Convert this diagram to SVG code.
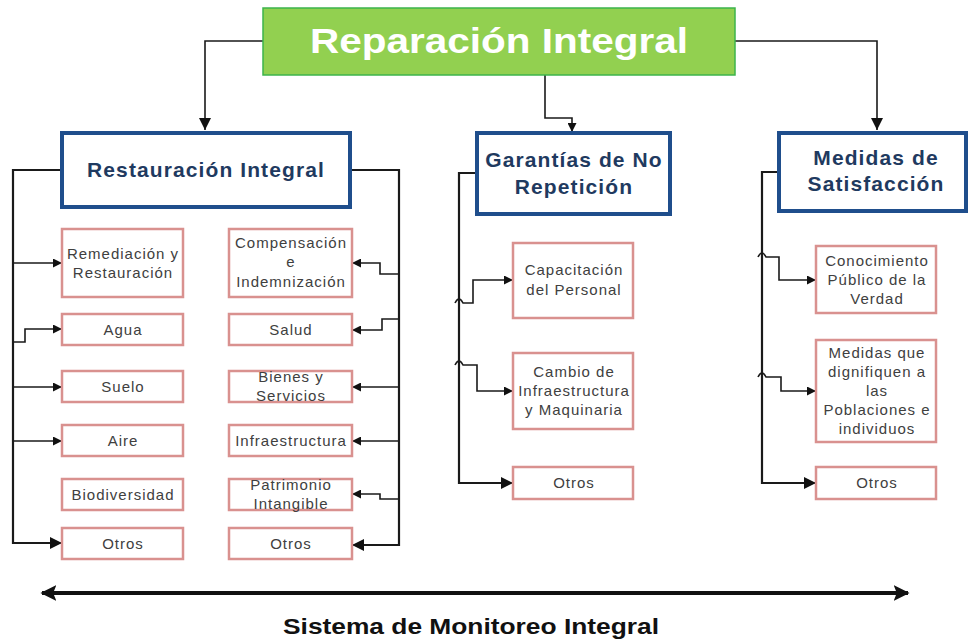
<svg xmlns="http://www.w3.org/2000/svg" width="968" height="640" viewBox="0 0 968 640">
<style>
.main{fill:#92D050;stroke:#3CB44B;stroke-width:1.5}
.cat{fill:#fff;stroke:#1F4E8C;stroke-width:4}
.leaf{fill:#fff;stroke:#D9918F;stroke-width:2.5}
.ct{font-family:"Liberation Sans",Arial,sans-serif;font-weight:bold;font-size:21px;letter-spacing:1.1px;fill:#1F3A60;text-anchor:middle}
.lt{font-family:"Liberation Sans",Arial,sans-serif;font-size:15px;letter-spacing:1px;fill:#404040;text-anchor:middle}
.ln{fill:none;stroke:#1a1a1a;stroke-width:1.6}
.tr{fill:none;stroke:#1a1a1a;stroke-width:2.2}
</style>
<defs>
<marker id="ah" viewBox="0 0 10 10" refX="10" refY="5" markerWidth="9" markerHeight="9" markerUnits="userSpaceOnUse" orient="auto"><path d="M0,0 L10,5 L0,10 z" fill="#111"/></marker>
<marker id="ahb" viewBox="0 0 10 10" refX="10" refY="5" markerWidth="12" markerHeight="12" markerUnits="userSpaceOnUse" orient="auto"><path d="M0,0 L10,5 L0,10 z" fill="#111"/></marker>
<marker id="big" viewBox="0 0 10 10" refX="9" refY="5" markerWidth="16" markerHeight="16" markerUnits="userSpaceOnUse" orient="auto-start-reverse"><path d="M0,0 L10,5 L0,10 L2,5 z" fill="#111"/></marker>
</defs>

<g id="connectors">
<path class="ln" d="M263,41 H205 V130" marker-end="url(#ahb)"/>
<path class="ln" d="M545,75 V118 H572 V132" marker-end="url(#ah)"/>
<path class="ln" d="M735,41 H877 V130" marker-end="url(#ahb)"/>
<path class="tr" d="M62,170 H13 V543 H62" marker-end="url(#ahb)"/>
<path class="ln" d="M13,263 H62" marker-end="url(#ah)"/>
<path class="ln" d="M13,342 H25 V329 H62" marker-end="url(#ah)"/>
<path class="ln" d="M13,387 H62" marker-end="url(#ah)"/>
<path class="ln" d="M13,441 H62" marker-end="url(#ah)"/>
<path class="tr" d="M350,170 H399 V545 H352" marker-end="url(#ahb)"/>
<path class="ln" d="M399,274 H380 V263 H352" marker-end="url(#ah)"/>
<path class="ln" d="M399,319 H382 V330 H352" marker-end="url(#ah)"/>
<path class="ln" d="M399,387 H352" marker-end="url(#ah)"/>
<path class="ln" d="M399,441 H352" marker-end="url(#ah)"/>
<path class="ln" d="M399,499 H380 V494 H352" marker-end="url(#ah)"/>
<path class="tr" d="M476,173 H459 V483 H513" marker-end="url(#ahb)"/>
<path class="ln" d="M455,303 Q459,295 463,303 H473 V280 H513" marker-end="url(#ah)"/>
<path class="ln" d="M455,365 Q459,357 463,365 H477 V391 H513" marker-end="url(#ah)"/>
<path class="tr" d="M777,172 H762 V483 H816" marker-end="url(#ahb)"/>
<path class="ln" d="M758,257 Q762,249 766,257 H779 V280 H816" marker-end="url(#ah)"/>
<path class="ln" d="M758,377 Q762,369 766,377 H781 V391 H816" marker-end="url(#ah)"/>
<path d="M42,593 H908" fill="none" stroke="#111" stroke-width="4" marker-start="url(#big)" marker-end="url(#big)"/>
</g>

<g id="reparacion">
<rect class="main" x="263" y="8" width="472" height="67"/>
<text x="499" y="53" font-family="'Liberation Sans',Arial,sans-serif" font-weight="bold" font-size="35" fill="#fff" text-anchor="middle" textLength="378" lengthAdjust="spacingAndGlyphs">Reparación Integral</text>
</g>

<g id="restauracion">
<rect class="cat" x="62" y="133" width="288" height="74"/>
<text class="ct" x="206" y="177">Restauración Integral</text>
</g>
<g id="garantias">
<rect class="cat" x="477" y="133" width="193" height="81"/>
<text class="ct" x="574" y="167">Garantías de No</text>
<text class="ct" x="574" y="194">Repetición</text>
</g>
<g id="medidas">
<rect class="cat" x="779" y="133" width="187" height="78"/>
<text class="ct" x="876" y="165">Medidas de</text>
<text class="ct" x="876" y="191">Satisfacción</text>
</g>

<g id="remediacion"><rect class="leaf" x="62" y="229" width="121" height="68"/><text class="lt" x="123" y="259">Remediación y</text><text class="lt" x="123" y="278">Restauración</text></g>
<g id="agua"><rect class="leaf" x="62" y="314" width="121" height="31"/><text class="lt" x="123" y="335">Agua</text></g>
<g id="suelo"><rect class="leaf" x="62" y="371" width="121" height="31"/><text class="lt" x="123" y="392">Suelo</text></g>
<g id="aire"><rect class="leaf" x="62" y="425" width="121" height="31"/><text class="lt" x="123" y="446">Aire</text></g>
<g id="biodiversidad"><rect class="leaf" x="62" y="479" width="121" height="31"/><text class="lt" x="123" y="500">Biodiversidad</text></g>
<g id="otros1"><rect class="leaf" x="62" y="528" width="121" height="31"/><text class="lt" x="123" y="549">Otros</text></g>

<g id="compensacion"><rect class="leaf" x="229" y="229" width="123" height="68"/><text class="lt" x="291" y="248">Compensación</text><text class="lt" x="291" y="267">e</text><text class="lt" x="291" y="287">Indemnización</text></g>
<g id="salud"><rect class="leaf" x="229" y="314" width="123" height="31"/><text class="lt" x="291" y="335">Salud</text></g>
<g id="bienes"><rect class="leaf" x="229" y="371" width="123" height="31"/><text class="lt" x="291" y="382">Bienes y</text><text class="lt" x="291" y="401">Servicios</text></g>
<g id="infraestructura"><rect class="leaf" x="229" y="425" width="123" height="31"/><text class="lt" x="291" y="446">Infraestructura</text></g>
<g id="patrimonio"><rect class="leaf" x="229" y="479" width="123" height="31"/><text class="lt" x="291" y="490">Patrimonio</text><text class="lt" x="291" y="509">Intangible</text></g>
<g id="otros2"><rect class="leaf" x="229" y="528" width="123" height="31"/><text class="lt" x="291" y="549">Otros</text></g>

<g id="capacitacion"><rect class="leaf" x="513" y="243" width="120" height="75"/><text class="lt" x="574" y="275">Capacitación</text><text class="lt" x="574" y="295">del Personal</text></g>
<g id="cambio"><rect class="leaf" x="513" y="353" width="120" height="76"/><text class="lt" x="574" y="377">Cambio de</text><text class="lt" x="574" y="396">Infraestructura</text><text class="lt" x="574" y="415">y Maquinaria</text></g>
<g id="otros3"><rect class="leaf" x="513" y="467" width="120" height="32"/><text class="lt" x="574" y="488">Otros</text></g>

<g id="conocimiento"><rect class="leaf" x="816" y="246" width="120" height="67"/><text class="lt" x="877" y="266">Conocimiento</text><text class="lt" x="877" y="285">Público de la</text><text class="lt" x="877" y="304">Verdad</text></g>
<g id="dignifiquen"><rect class="leaf" x="816" y="340" width="120" height="102"/><text class="lt" x="877" y="358">Medidas que</text><text class="lt" x="877" y="377">dignifiquen a</text><text class="lt" x="877" y="396">las</text><text class="lt" x="877" y="415">Poblaciones e</text><text class="lt" x="877" y="434">individuos</text></g>
<g id="otros4"><rect class="leaf" x="816" y="467" width="120" height="32"/><text class="lt" x="877" y="488">Otros</text></g>

<g id="monitoreo">
<text x="471" y="634" font-family="'Liberation Sans',Arial,sans-serif" font-weight="bold" font-size="22" fill="#111" text-anchor="middle" textLength="376" lengthAdjust="spacingAndGlyphs">Sistema de Monitoreo Integral</text>
</g>
</svg>
